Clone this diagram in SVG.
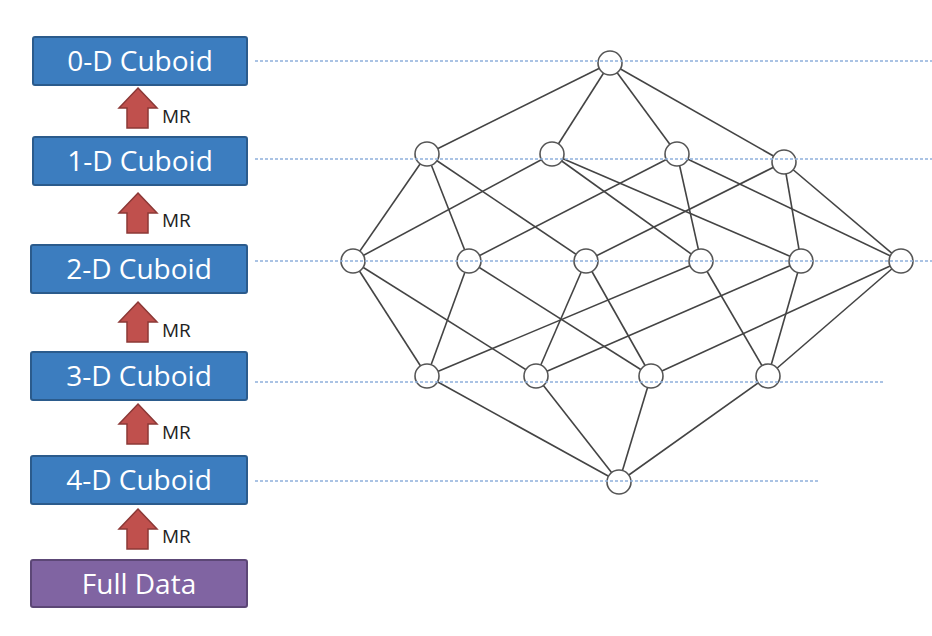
<svg xmlns="http://www.w3.org/2000/svg" width="932" height="636" viewBox="0 0 932 636">
<style>
.box{fill:#3c7dbf;stroke:#2b5b8c;stroke-width:2}
.pbox{fill:#8064a2;stroke:#5c4776;stroke-width:2}
.lbl{font-family:"Open Sans","Liberation Sans",sans-serif;font-size:28px;fill:#ffffff;text-anchor:middle}
.arr{fill:#c0504d;stroke:#8c3836;stroke-width:1.5}
.mr{font-family:"Open Sans","Liberation Sans",sans-serif;font-size:19px;fill:#222222}
.dash{stroke:#8fb0dc;stroke-width:1.5;stroke-dasharray:3 2;fill:none}
.edge{stroke:#444444;stroke-width:1.6;fill:none}
.node{fill:#ffffff;stroke:#555555;stroke-width:1.6}
</style>
<defs>
<path id="uparrow" d="M0,0 L19,20 L10,20 L10,40 L-11,40 L-11,20 L-19,20 Z"/>
</defs>
<g id="box0"><rect class="box" x="33" y="37" width="214" height="48" rx="2"/><text class="lbl" x="140" y="71">0-D Cuboid</text></g>
<g id="box1"><rect class="box" x="33" y="137" width="214" height="48" rx="2"/><text class="lbl" x="140" y="171">1-D Cuboid</text></g>
<g id="box2"><rect class="box" x="31" y="245" width="216" height="48" rx="2"/><text class="lbl" x="139" y="279">2-D Cuboid</text></g>
<g id="box3"><rect class="box" x="31" y="352" width="216" height="48" rx="2"/><text class="lbl" x="139" y="386">3-D Cuboid</text></g>
<g id="box4"><rect class="box" x="31" y="456" width="216" height="48" rx="2"/><text class="lbl" x="139" y="490">4-D Cuboid</text></g>
<g id="fulldata"><rect class="pbox" x="31" y="560" width="216" height="47" rx="2"/><text class="lbl" x="139" y="594">Full Data</text></g>
<g id="mr-arrows">
<use href="#uparrow" class="arr" x="138" y="88"/><text class="mr" x="162" y="123">MR</text>
<use href="#uparrow" class="arr" x="138" y="193"/><text class="mr" x="162" y="227">MR</text>
<use href="#uparrow" class="arr" x="138" y="302"/><text class="mr" x="162" y="337">MR</text>
<use href="#uparrow" class="arr" x="138" y="404"/><text class="mr" x="162" y="439">MR</text>
<use href="#uparrow" class="arr" x="138" y="509"/><text class="mr" x="162" y="543">MR</text>
</g>
<g id="connectors">
<line class="edge" x1="610" y1="63" x2="427" y2="154"/>
<line class="edge" x1="610" y1="63" x2="552" y2="154"/>
<line class="edge" x1="610" y1="63" x2="677" y2="154"/>
<line class="edge" x1="610" y1="63" x2="784" y2="162"/>
<line class="edge" x1="427" y1="154" x2="353" y2="261"/>
<line class="edge" x1="427" y1="154" x2="469" y2="261"/>
<line class="edge" x1="427" y1="154" x2="586" y2="261"/>
<line class="edge" x1="552" y1="154" x2="353" y2="261"/>
<line class="edge" x1="552" y1="154" x2="701" y2="261"/>
<line class="edge" x1="552" y1="154" x2="801" y2="261"/>
<line class="edge" x1="677" y1="154" x2="469" y2="261"/>
<line class="edge" x1="677" y1="154" x2="701" y2="261"/>
<line class="edge" x1="677" y1="154" x2="901" y2="261"/>
<line class="edge" x1="784" y1="162" x2="586" y2="261"/>
<line class="edge" x1="784" y1="162" x2="801" y2="261"/>
<line class="edge" x1="784" y1="162" x2="901" y2="261"/>
<line class="edge" x1="353" y1="261" x2="427" y2="376"/>
<line class="edge" x1="353" y1="261" x2="536" y2="376"/>
<line class="edge" x1="469" y1="261" x2="427" y2="376"/>
<line class="edge" x1="469" y1="261" x2="651" y2="376"/>
<line class="edge" x1="586" y1="261" x2="536" y2="376"/>
<line class="edge" x1="586" y1="261" x2="651" y2="376"/>
<line class="edge" x1="701" y1="261" x2="427" y2="376"/>
<line class="edge" x1="701" y1="261" x2="768" y2="376"/>
<line class="edge" x1="801" y1="261" x2="536" y2="376"/>
<line class="edge" x1="801" y1="261" x2="768" y2="376"/>
<line class="edge" x1="901" y1="261" x2="651" y2="376"/>
<line class="edge" x1="901" y1="261" x2="768" y2="376"/>
<line class="edge" x1="427" y1="376" x2="619" y2="482"/>
<line class="edge" x1="536" y1="376" x2="619" y2="482"/>
<line class="edge" x1="651" y1="376" x2="619" y2="482"/>
<line class="edge" x1="768" y1="376" x2="619" y2="482"/>
</g>
<g id="n-top"><circle class="node" cx="610" cy="63" r="12"/></g>
<g id="n1a"><circle class="node" cx="427" cy="154" r="12"/></g>
<g id="n1b"><circle class="node" cx="552" cy="154" r="12"/></g>
<g id="n1c"><circle class="node" cx="677" cy="154" r="12"/></g>
<g id="n1d"><circle class="node" cx="784" cy="162" r="12"/></g>
<g id="n2a"><circle class="node" cx="353" cy="261" r="12"/></g>
<g id="n2b"><circle class="node" cx="469" cy="261" r="12"/></g>
<g id="n2c"><circle class="node" cx="586" cy="261" r="12"/></g>
<g id="n2d"><circle class="node" cx="701" cy="261" r="12"/></g>
<g id="n2e"><circle class="node" cx="801" cy="261" r="12"/></g>
<g id="n2f"><circle class="node" cx="901" cy="261" r="12"/></g>
<g id="n3a"><circle class="node" cx="427" cy="376" r="12"/></g>
<g id="n3b"><circle class="node" cx="536" cy="376" r="12"/></g>
<g id="n3c"><circle class="node" cx="651" cy="376" r="12"/></g>
<g id="n3d"><circle class="node" cx="768" cy="376" r="12"/></g>
<g id="n-bottom"><circle class="node" cx="619" cy="482" r="12"/></g>
<g id="level-lines">
<line class="dash" x1="255" y1="61" x2="932" y2="61"/>
<line class="dash" x1="255" y1="159" x2="932" y2="159"/>
<line class="dash" x1="255" y1="261" x2="932" y2="261"/>
<line class="dash" x1="255" y1="382" x2="883" y2="382"/>
<line class="dash" x1="255" y1="481" x2="818" y2="481"/>
</g>
</svg>
